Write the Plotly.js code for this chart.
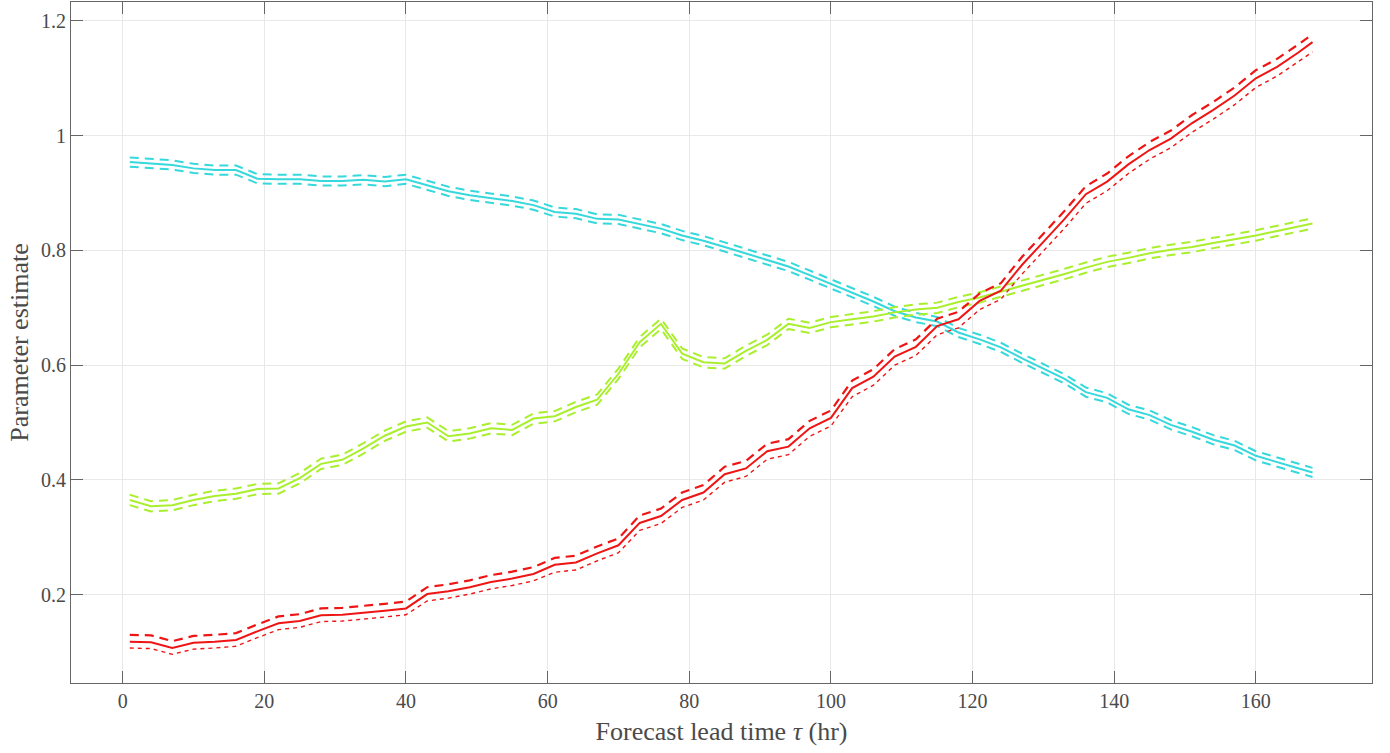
<!DOCTYPE html>
<html>
<head>
<meta charset="utf-8">
<script src="https://cdn.plot.ly/plotly-3.0.1.min.js"></script>
<style>html,body{margin:0;padding:0;background:#fff;}#chart{width:1390px;height:753px;}</style>
</head>
<body>
<div id="chart"></div>
<script>
const leadTime = [1,4,7,10,13,16,19,22,25,28,31,34,37,40,43,46,49,52,55,58,61,64,67,70,73,76,79,82,85,88,91,94,97,100,103,106,109,112,115,118,121,124,127,130,133,136,139,142,145,148,151,154,157,160,163,166,168];

const cyanMid = [0.954,0.952,0.949,0.943,0.940,0.940,0.925,0.924,0.924,0.921,0.921,0.923,0.920,0.924,0.914,0.903,0.896,0.891,0.886,0.879,0.867,0.864,0.855,0.854,0.846,0.838,0.826,0.817,0.806,0.795,0.783,0.772,0.757,0.742,0.727,0.711,0.694,0.683,0.676,0.657,0.645,0.631,0.612,0.594,0.576,0.553,0.543,0.523,0.513,0.496,0.484,0.470,0.460,0.442,0.431,0.420,0.413];
const cyanUpper = [0.962,0.960,0.957,0.951,0.948,0.948,0.933,0.932,0.932,0.929,0.929,0.931,0.928,0.932,0.922,0.911,0.904,0.899,0.894,0.887,0.875,0.872,0.863,0.862,0.854,0.846,0.834,0.825,0.814,0.803,0.791,0.780,0.765,0.750,0.735,0.719,0.702,0.691,0.684,0.665,0.653,0.639,0.620,0.602,0.584,0.561,0.551,0.531,0.521,0.504,0.492,0.478,0.468,0.450,0.439,0.428,0.421];
const cyanLower = [0.946,0.944,0.941,0.935,0.932,0.932,0.917,0.916,0.916,0.913,0.913,0.915,0.912,0.916,0.906,0.895,0.888,0.883,0.878,0.871,0.859,0.856,0.847,0.846,0.838,0.830,0.818,0.809,0.798,0.787,0.775,0.764,0.749,0.734,0.719,0.703,0.686,0.675,0.668,0.649,0.637,0.623,0.604,0.586,0.568,0.545,0.535,0.515,0.505,0.488,0.476,0.462,0.452,0.434,0.423,0.412,0.405];

const greenMid = [0.365,0.354,0.356,0.365,0.372,0.376,0.384,0.385,0.403,0.428,0.435,0.455,0.477,0.493,0.500,0.476,0.481,0.490,0.487,0.507,0.511,0.527,0.540,0.585,0.640,0.672,0.620,0.605,0.603,0.625,0.644,0.672,0.665,0.675,0.680,0.685,0.692,0.697,0.700,0.710,0.718,0.728,0.738,0.748,0.759,0.770,0.780,0.787,0.795,0.801,0.806,0.813,0.819,0.826,0.834,0.842,0.847];
const greenUpper = [0.374,0.363,0.365,0.374,0.381,0.385,0.393,0.394,0.412,0.437,0.444,0.464,0.486,0.502,0.509,0.485,0.490,0.499,0.496,0.516,0.520,0.536,0.549,0.594,0.649,0.681,0.629,0.614,0.612,0.634,0.653,0.681,0.674,0.684,0.689,0.694,0.701,0.706,0.709,0.719,0.727,0.737,0.747,0.757,0.768,0.779,0.789,0.796,0.804,0.810,0.815,0.822,0.828,0.835,0.843,0.851,0.856];
const greenLower = [0.356,0.345,0.347,0.356,0.363,0.367,0.375,0.376,0.394,0.419,0.426,0.446,0.468,0.484,0.491,0.467,0.472,0.481,0.478,0.498,0.502,0.518,0.531,0.576,0.631,0.663,0.611,0.596,0.594,0.616,0.635,0.663,0.656,0.666,0.671,0.676,0.683,0.688,0.691,0.701,0.709,0.719,0.729,0.739,0.750,0.761,0.771,0.778,0.786,0.792,0.797,0.804,0.810,0.817,0.825,0.833,0.838];

const redMid = [0.118,0.117,0.107,0.116,0.118,0.121,0.136,0.150,0.154,0.164,0.165,0.168,0.172,0.176,0.201,0.206,0.213,0.222,0.228,0.236,0.252,0.256,0.272,0.286,0.325,0.337,0.365,0.378,0.410,0.420,0.450,0.458,0.490,0.508,0.560,0.580,0.615,0.632,0.668,0.680,0.712,0.730,0.775,0.815,0.855,0.898,0.920,0.950,0.975,0.995,1.022,1.045,1.070,1.100,1.120,1.145,1.163];
const redUpper = [0.130,0.129,0.119,0.128,0.130,0.133,0.148,0.162,0.166,0.176,0.177,0.180,0.184,0.188,0.213,0.218,0.225,0.234,0.240,0.248,0.264,0.268,0.284,0.298,0.338,0.350,0.378,0.391,0.423,0.433,0.463,0.471,0.503,0.521,0.573,0.593,0.628,0.645,0.681,0.693,0.725,0.743,0.789,0.829,0.869,0.912,0.934,0.964,0.989,1.009,1.036,1.059,1.084,1.114,1.134,1.159,1.177];
const redLower = [0.107,0.106,0.096,0.105,0.107,0.110,0.125,0.139,0.143,0.153,0.154,0.157,0.161,0.165,0.189,0.194,0.201,0.210,0.216,0.224,0.239,0.243,0.259,0.273,0.312,0.324,0.352,0.365,0.396,0.406,0.436,0.444,0.476,0.494,0.545,0.565,0.600,0.617,0.653,0.665,0.697,0.715,0.759,0.799,0.839,0.882,0.904,0.934,0.959,0.979,1.006,1.029,1.054,1.084,1.104,1.129,1.146];

const xTicks = [0,20,40,60,80,100,120,140,160];
const yTicks = [0.2,0.4,0.6,0.8,1,1.2];
const yTickText = ['0.2','0.4','0.6','0.8','1','1.2'];

const CYAN = '#36d8dc', GREEN = '#a9ef2e', RED = '#ee1515';

function tr(y, color, dash, width) {
  return {x: leadTime, y: y, type: 'scatter', mode: 'lines',
          line: {color: color, width: width, dash: dash}, hoverinfo: 'skip', showlegend: false};
}

const data = [
  tr(cyanUpper, CYAN, '9px,6px', 2), tr(cyanLower, CYAN, '9px,6px', 2), tr(cyanMid, CYAN, 'solid', 2),
  tr(greenUpper, GREEN, '9px,6px', 2), tr(greenLower, GREEN, '9px,6px', 2), tr(greenMid, GREEN, 'solid', 2),
  tr(redUpper, RED, '9px,6px', 2.2), tr(redLower, RED, '4px,4px', 1.4), tr(redMid, RED, 'solid', 2)
];

const FAM = '"Liberation Serif", "DejaVu Serif", serif';
const TXT = '#4a4a4a';

const layout = {
  width: 1390, height: 753,
  margin: {l: 71, r: 18, t: 2, b: 70},
  paper_bgcolor: '#fff', plot_bgcolor: '#fff',
  font: {family: FAM, size: 20, color: TXT},
  showlegend: false,
  xaxis: {
    range: [-7.3, 176.4], tickvals: xTicks, ticktext: xTicks.map(String),
    showgrid: true, gridcolor: '#e8e8e8', gridwidth: 1, zeroline: false,
    showline: true, linecolor: '#666', linewidth: 1, mirror: 'ticks',
    ticks: 'inside', ticklen: 12, tickcolor: '#666', tickwidth: 1,
    tickfont: {family: FAM, size: 20, color: TXT},
    title: {text: 'Forecast lead time <i>τ</i> (hr)', font: {family: FAM, size: 26, color: TXT}, standoff: 10}
  },
  yaxis: {
    range: [0.046, 1.233], tickvals: yTicks, ticktext: yTickText,
    showgrid: true, gridcolor: '#e8e8e8', gridwidth: 1, zeroline: false,
    showline: true, linecolor: '#666', linewidth: 1, mirror: 'ticks',
    ticks: 'inside', ticklen: 12, tickcolor: '#666', tickwidth: 1,
    tickfont: {family: FAM, size: 20, color: TXT},
    title: {text: 'Parameter estimate', font: {family: FAM, size: 26, color: TXT}, standoff: 4}
  }
};

Plotly.newPlot('chart', data, layout, {displayModeBar: false, staticPlot: true});
</script>
</body>
</html>
